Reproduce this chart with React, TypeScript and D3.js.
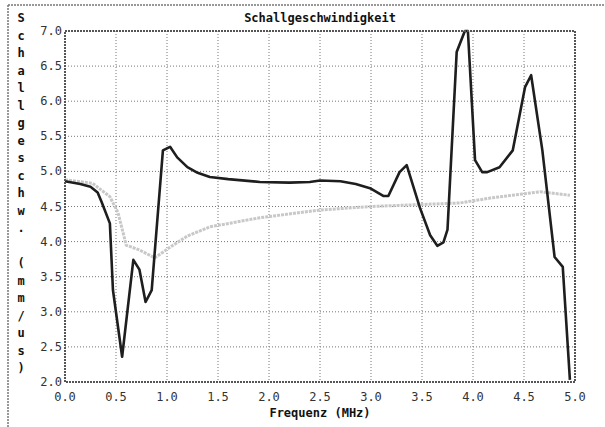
import React from "react";
import * as d3 from "d3";

const title = "Schallgeschwindigkeit";
const xLabel = "Frequenz (MHz)";
const yLabel = "Schallgeschw. (mm/us)";
const xTicks = [0, 0.5, 1, 1.5, 2, 2.5, 3, 3.5, 4, 4.5, 5];
const yTicks = [2, 2.5, 3, 3.5, 4, 4.5, 5, 5.5, 6, 6.5, 7];

const darkFreq = [0, 0.15, 0.25, 0.32, 0.36, 0.44, 0.47, 0.56, 0.67, 0.73, 0.79, 0.85, 0.96, 1.03, 1.1, 1.2, 1.3, 1.42, 1.6, 1.91, 2.2, 2.4, 2.5, 2.7, 2.85, 2.99, 3.12, 3.17, 3.28, 3.35, 3.48, 3.58, 3.65, 3.71, 3.75, 3.84, 3.92, 3.95, 4.02, 4.09, 4.14, 4.26, 4.39, 4.51, 4.57, 4.68, 4.8, 4.88, 4.95];
const darkVel = [4.86, 4.82, 4.78, 4.7, 4.56, 4.26, 3.31, 2.36, 3.74, 3.6, 3.14, 3.31, 5.3, 5.35, 5.2, 5.06, 4.98, 4.92, 4.89, 4.85, 4.84, 4.85, 4.87, 4.86, 4.82, 4.76, 4.65, 4.65, 4.99, 5.09, 4.48, 4.09, 3.94, 3.99, 4.17, 6.7, 7.0, 7.0, 5.16, 4.99, 4.99, 5.06, 5.3, 6.2, 6.37, 5.3, 3.78, 3.64, 2.03];

const lightFreq = [0, 0.27, 0.44, 0.52, 0.6, 0.73, 0.88, 1.03, 1.2, 1.42, 1.91, 2.5, 3.0, 3.35, 3.87, 4.17, 4.66, 4.95];
const lightVel = [4.88, 4.83, 4.64, 4.41, 3.95, 3.88, 3.77, 3.92, 4.08, 4.21, 4.34, 4.45, 4.5, 4.52, 4.55, 4.62, 4.71, 4.66];

const W = 605;
const H = 427;
const left = 65;
const right = 575;
const top = 31;
const bottom = 382;
const font = "'DejaVu Sans Mono', 'Liberation Mono', monospace";

export default function App() {
  const x = d3.scaleLinear().domain([0, 5]).range([left, right]);
  const y = d3.scaleLinear().domain([2, 7]).range([bottom, top]);
  const line = d3
    .line<[number, number]>()
    .x((d) => x(d[0]))
    .y((d) => y(d[1]));
  const dark = darkFreq.map((f, i) => [f, darkVel[i]] as [number, number]);
  const light = lightFreq.map((f, i) => [f, lightVel[i]] as [number, number]);
  const fmt = d3.format(".1f");
  const letters = yLabel.split("");

  return (
    <svg
      width={W}
      height={H}
      style={{ position: "absolute", left: 0, top: 0, background: "#fff" }}
    >
      <rect x={0} y={0} width={W} height={H} fill="#fff" />
      {/* outer frame */}
      <line x1={8} y1={5} x2={W} y2={5} stroke="#777" strokeWidth={1.5} strokeDasharray="2,1" />
      <line x1={8} y1={5} x2={8} y2={H} stroke="#777" strokeWidth={1.5} strokeDasharray="2,1" />

      {/* grid */}
      {xTicks.slice(1, -1).map((t) => (
        <line key={"gx" + t} x1={x(t)} x2={x(t)} y1={top} y2={bottom} stroke="#777" strokeWidth={1} strokeDasharray="1,2" />
      ))}
      {yTicks.slice(1, -1).map((t) => (
        <line key={"gy" + t} x1={left} x2={right} y1={y(t)} y2={y(t)} stroke="#777" strokeWidth={1} strokeDasharray="1,2" />
      ))}

      {/* curves */}
      <path d={line(light) || ""} fill="none" stroke="#c8c8c8" strokeWidth={3} strokeDasharray="3,1" />
      <path d={line(dark) || ""} fill="none" stroke="#1e1e1e" strokeWidth={2.6} strokeLinejoin="round" />

      {/* plot border */}
      <rect x={left} y={top} width={right - left} height={bottom - top} fill="none" stroke="#555" strokeWidth={2} strokeDasharray="2,1" />

      {/* tick labels */}
      {xTicks.map((t) => (
        <text key={"tx" + t} x={x(t)} y={401} textAnchor="middle" fontFamily={font} fontSize={12} fill="#333">
          {fmt(t)}
        </text>
      ))}
      {yTicks.map((t) => (
        <text key={"ty" + t} x={62} y={y(t) + 4} textAnchor="end" fontFamily={font} fontSize={12} fill="#333">
          {fmt(t)}
        </text>
      ))}

      {/* title */}
      <text x={320} y={22} textAnchor="middle" fontFamily={font} fontSize={12} fontWeight="bold" fill="#111">
        {title}
      </text>
      {/* x label */}
      <text x={320} y={417} textAnchor="middle" fontFamily={font} fontSize={12} fontWeight="bold" fill="#111">
        {xLabel}
      </text>
      {/* y label stacked */}
      {letters.map((c, i) => (
        <text key={"yl" + i} x={21} y={22 + i * 17.5} textAnchor="middle" fontFamily={font} fontSize={12} fontWeight="bold" fill="#111">
          {c}
        </text>
      ))}
    </svg>
  );
}
